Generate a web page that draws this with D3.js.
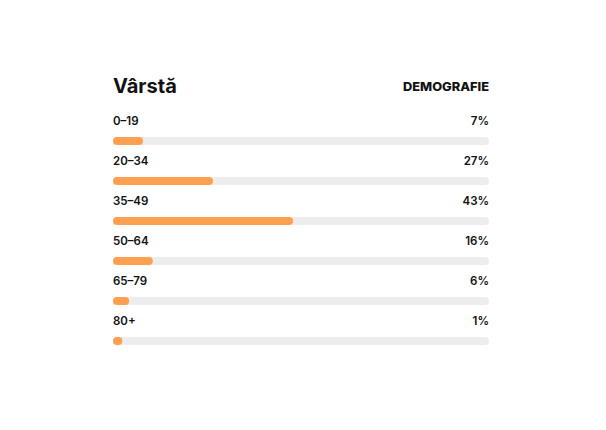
<!DOCTYPE html>
<html><head><meta charset="utf-8">
<script src="https://cdn.jsdelivr.net/npm/d3@7"></script>
<style>body{margin:0;background:#fff;font-family:Inter,sans-serif}</style>
</head><body>
<svg id="c" width="606" height="430"></svg>
<script>
const title = "Vârstă";
const tag = "DEMOGRAFIE";
const categories = ["0–19","20–34","35–49","50–64","65–79","80+"];
const labelValues = [7,27,43,16,6,1];
const barShares = [8,26.6,47.9,10.6,4.3,2.5];

const svg = d3.select("#c");
const left = 113, right = 489;
const x = d3.scaleLinear().domain([0,100]).range([0, right-left]);
const y = d3.scaleBand().domain(categories).range([105, 345]).paddingInner(0);

svg.append("text").attr("x",left).attr("y",93).text(title)
  .attr("font-size",20).attr("font-weight",700).attr("fill","#111");
svg.append("text").attr("x",right-86).attr("y",91).text(tag)
  .attr("font-size",11.8).attr("font-weight",800).attr("fill","#111")
  .attr("textLength",86).attr("lengthAdjust","spacingAndGlyphs");

const g = svg.selectAll("g.row").data(categories).join("g").attr("class","row")
  .attr("transform",d=>`translate(0,${y(d)})`);
g.append("text").attr("x",left).attr("y",20).text(d=>d)
  .attr("font-size",11.5).attr("font-weight",600).attr("fill","#111");
g.append("text").attr("x",right).attr("y",20).attr("text-anchor","end")
  .text((d,i)=>labelValues[i]+"%")
  .attr("font-size",11.5).attr("font-weight",600).attr("fill","#111");
g.append("rect").attr("x",left).attr("y",32).attr("width",x(100)).attr("height",8)
  .attr("rx",4).attr("fill","#ededed");
g.append("rect").attr("x",left).attr("y",32).attr("width",(d,i)=>x(barShares[i])).attr("height",8)
  .attr("rx",4).attr("fill","#ff9f50");
</script>
</body></html>
